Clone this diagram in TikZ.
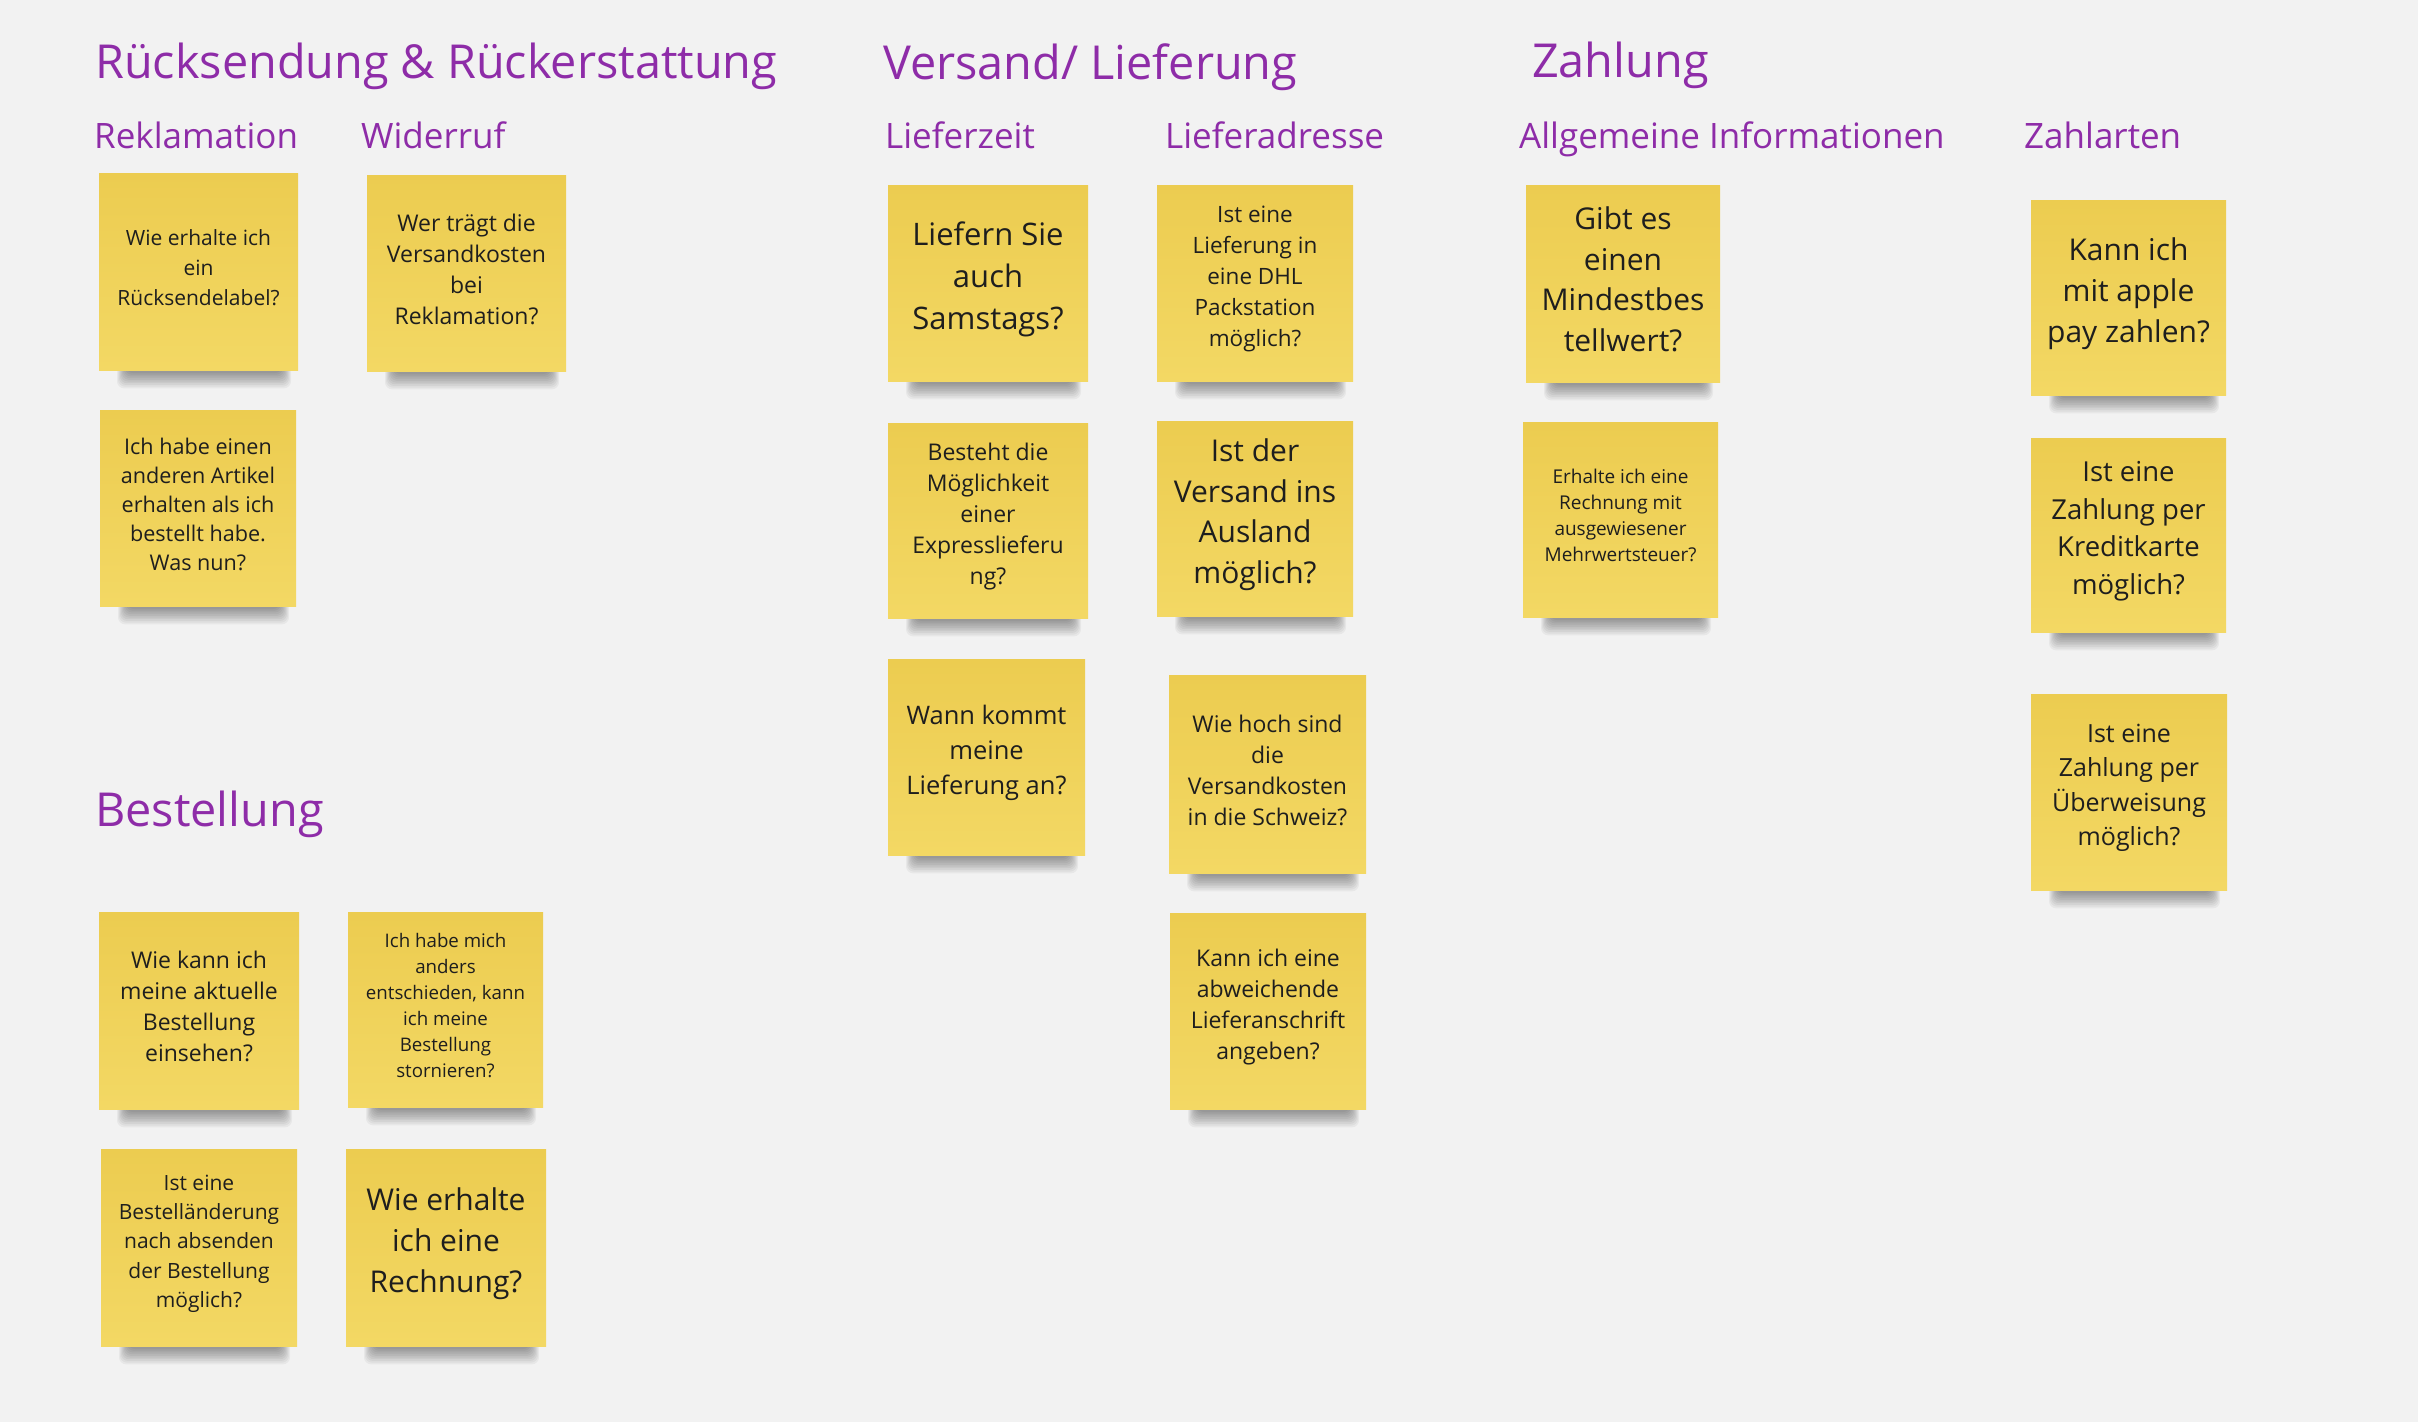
\documentclass[tikz,border=0pt]{standalone}
\usepackage{fontspec}
\setmainfont{Open Sans}
\definecolor{bg}{HTML}{F2F2F2}
\definecolor{ttl}{HTML}{8E2CA8}
\definecolor{ntop}{RGB}{236,204,80}
\definecolor{nbot}{RGB}{243,216,100}
\definecolor{ntext}{HTML}{1E1E1E}
\tikzset{
  stickybox/.style={rectangle, inner sep=0pt, top color=ntop, bottom color=nbot},
  stickytext/.style={inner sep=0pt, text=ntext, align=center},
  sectiontitle/.style={anchor=base west, inner sep=0pt, text=ttl, font=\fontsize{46.8}{56}\selectfont},
  subtitle/.style={anchor=base west, inner sep=0pt, text=ttl, font=\fontsize{35}{42}\selectfont},
  shadowlayer/.style={black, opacity=0.042, rounded corners=7pt}
}
% #1 name, #2 x, #3 y, #4 w, #5 h, #6 font size, #7 line skip, #8 text
\newcommand{\stickynote}[8]{%
  \foreach \i in {0,...,9}{\fill[shadowlayer] ({#2+27-\i},{#3+#5-6}) rectangle ({#2+#4-16+\i},{#3+#5+3+1.7*\i});}
  \node[stickybox, minimum width=#4pt, minimum height=#5pt] (#1) at ({#2+#4/2},{#3+#5/2}) {};
  \node[stickytext, font=\fontsize{#6}{#7}\selectfont, yshift=4pt] (#1-text) at (#1.center) {#8};
}
\begin{document}
\begin{tikzpicture}[x=1pt,y=-1pt]
\fill[bg] (0,0) rectangle (2418,1422);
\useasboundingbox (0,0) rectangle (2418,1422);

% section titles
\node[sectiontitle] (t1) at (95,78) {Rücksendung \& Rückerstattung};
\node[sectiontitle] (t2) at (883,79) {Versand/ Lieferung};
\node[sectiontitle] (t3) at (1532,77) {Zahlung};
\node[sectiontitle] (t4) at (95,826) {Bestellung};

% subtitles
\node[subtitle] (s1) at (94,148) {Reklamation};
\node[subtitle] (s2) at (361,148) {Widerruf};
\node[subtitle] (s3) at (885,148) {Lieferzeit};
\node[subtitle] (s4) at (1165,148) {Lieferadresse};
\node[subtitle] (s5) at (1519,148) {Allgemeine Informationen};
\node[subtitle] (s6) at (2024,148) {Zahlarten};

% Rücksendung
\stickynote{rek1}{99}{173}{199}{197}{21}{30}{Wie erhalte ich\\ein\\Rücksendelabel?}
\stickynote{rek2}{100}{410}{196}{196}{21.6}{29}{Ich habe einen\\anderen Artikel\\erhalten als ich\\bestellt habe.\\Was nun?}
\stickynote{wid1}{367}{175}{199}{196}{23}{31}{Wer trägt die\\Versandkosten\\bei\\Reklamation?}

% Bestellung
\stickynote{b1}{99}{912}{200}{197}{23}{31}{Wie kann ich\\meine aktuelle\\Bestellung\\einsehen?}
\stickynote{b2}{348}{912}{195}{195}{18.7}{26}{Ich habe mich\\anders\\entschieden, kann\\ich meine\\Bestellung\\stornieren?}
\stickynote{b3}{101}{1149}{196}{197}{21}{29.3}{Ist eine\\Bestelländerung\\nach absenden\\der Bestellung\\möglich?}
\stickynote{b4}{346}{1149}{200}{197}{30}{41}{Wie erhalte\\ich eine\\Rechnung?}

% Lieferzeit
\stickynote{lz1}{888}{185}{200}{196}{31}{42}{Liefern Sie\\auch\\Samstags?}
\stickynote{lz2}{888}{423}{200}{195}{23}{31}{Besteht die\\Möglichkeit\\einer\\Expresslieferu\\ng?}
\stickynote{lz3}{888}{659}{197}{196}{25.5}{34.7}{Wann kommt\\meine\\Lieferung an?}

% Lieferadresse
\stickynote{la1}{1157}{185}{196}{196}{22.5}{31}{Ist eine\\Lieferung in\\eine DHL\\Packstation\\möglich?}
\stickynote{la2}{1157}{421}{196}{195}{30}{40.6}{Ist der\\Versand ins\\Ausland\\möglich?}
\stickynote{la3}{1169}{675}{197}{198}{23}{31}{Wie hoch sind\\die\\Versandkosten\\in die Schweiz?}
\stickynote{la4}{1170}{913}{196}{196}{23}{31}{Kann ich eine\\abweichende\\Lieferanschrift\\angeben?}

% Allgemeine Informationen
\stickynote{al1}{1526}{185}{194}{197}{30}{40.6}{Gibt es\\einen\\Mindestbes\\tellwert?}
\stickynote{al2}{1523}{422}{195}{195}{19}{26.2}{Erhalte ich eine\\Rechnung mit\\ausgewiesener\\Mehrwertsteuer?}

% Zahlarten
\stickynote{za1}{2031}{200}{195}{195}{30}{41}{Kann ich\\mit apple\\pay zahlen?}
\stickynote{za2}{2031}{438}{195}{194}{27.5}{37.5}{Ist eine\\Zahlung per\\Kreditkarte\\möglich?}
\stickynote{za3}{2031}{694}{196}{196}{25}{34.4}{Ist eine\\Zahlung per\\Überweisung\\möglich?}
\end{tikzpicture}
\end{document}
